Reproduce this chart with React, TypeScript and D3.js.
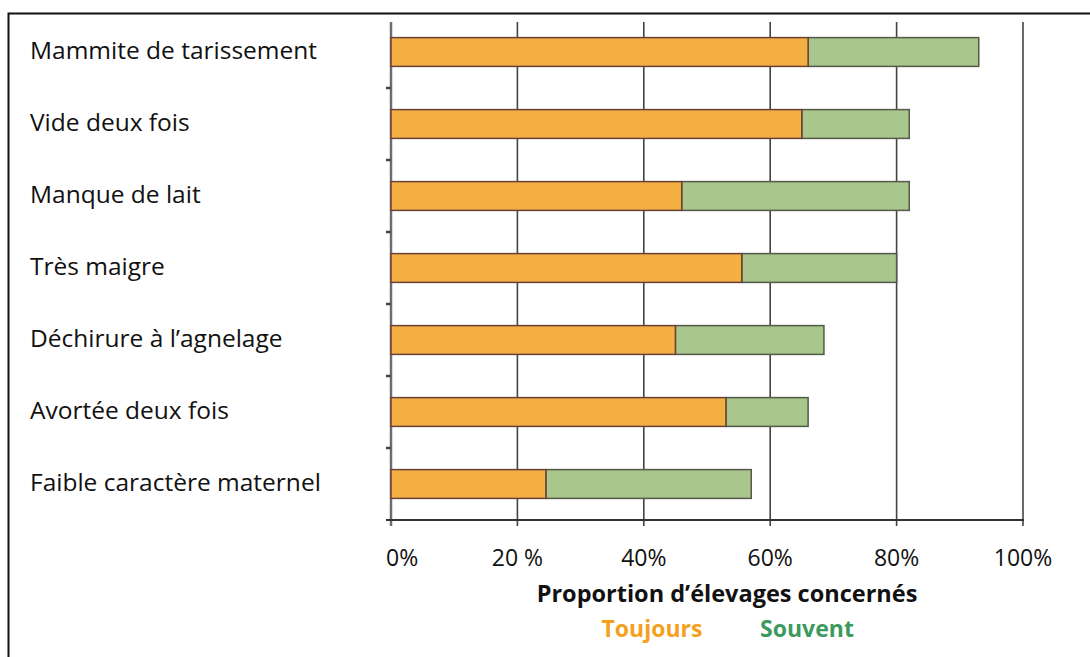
import { useEffect, useRef } from 'react';
import * as d3 from 'd3';

const WIDTH = 1090;
const HEIGHT = 657;

// Data
const CATEGORIES = [
  'Mammite de tarissement',
  'Vide deux fois',
  'Manque de lait',
  'Très maigre',
  'Déchirure à l\u2019agnelage',
  'Avortée deux fois',
  'Faible caractère maternel',
];
const TOUJOURS = [66, 65, 46, 55.5, 45, 53, 24.5];
const SOUVENT = [27, 17, 36, 24.5, 23.5, 13, 32.5];
const X_TICKS = [0, 20, 40, 60, 80, 100];
const X_TICK_LABELS = ['0%', '20 %', '40%', '60%', '80%', '100%'];

const FONT = '"Open Sans", "Noto Sans", Arial, sans-serif';
const ORANGE_FILL = '#f4b043';
const GREEN_FILL = '#a9c68c';

export default function App() {
  const svgRef = useRef<SVGSVGElement | null>(null);

  useEffect(() => {
    const svgEl = svgRef.current;
    if (!svgEl) return;
    const svg = d3.select(svgEl);
    svg.selectAll('*').remove();

    const plot = { left: 391, right: 1023, top: 16, bottom: 520 };

    const x = d3.scaleLinear().domain([0, 100]).range([plot.left, plot.right]);
    const y = d3
      .scaleBand<string>()
      .domain(CATEGORIES)
      .range([plot.top, plot.bottom])
      .paddingInner(0.6)
      .paddingOuter(0.3);

    // ---- frame -------------------------------------------------------------
    svg
      .append('rect')
      .attr('x', 8.5)
      .attr('y', 13.5)
      .attr('width', WIDTH + 20)
      .attr('height', HEIGHT + 20)
      .attr('fill', 'none')
      .attr('stroke', '#111')
      .attr('stroke-width', 2);

    // ---- vertical grid -----------------------------------------------------
    svg
      .append('g')
      .selectAll('line')
      .data(X_TICKS)
      .join('line')
      .attr('x1', (d) => x(d))
      .attr('x2', (d) => x(d))
      .attr('y1', 22)
      .attr('y2', plot.bottom + 6)
      .attr('stroke', (d) => (d === 0 ? '#6d6d78' : '#444'))
      .attr('stroke-width', (d) => (d === 0 ? 2.5 : 1.6));

    // ---- bars ----------------------------------------------------------------
    const rows = CATEGORIES.map((c, i) => ({ c, t: TOUJOURS[i], s: SOUVENT[i] }));
    const barG = svg.append('g');
    barG
      .selectAll('rect.souvent')
      .data(rows)
      .join('rect')
      .attr('class', 'souvent')
      .attr('x', (d) => x(d.t))
      .attr('y', (d) => y(d.c)!)
      .attr('width', (d) => x(d.t + d.s) - x(d.t))
      .attr('height', y.bandwidth())
      .attr('fill', GREEN_FILL)
      .attr('stroke', '#55584a')
      .attr('stroke-width', 1.5);
    barG
      .selectAll('rect.toujours')
      .data(rows)
      .join('rect')
      .attr('class', 'toujours')
      .attr('x', x(0))
      .attr('y', (d) => y(d.c)!)
      .attr('width', (d) => x(d.t) - x(0))
      .attr('height', y.bandwidth())
      .attr('fill', ORANGE_FILL)
      .attr('stroke', '#6a4232')
      .attr('stroke-width', 1.5);

    // ---- y-axis small ticks between categories -----------------------------
    const step = y.step();
    const boundaries = CATEGORIES.slice(1).map((c) => y(c)! - (step - y.bandwidth()) / 2);
    svg
      .append('g')
      .selectAll('line')
      .data(boundaries)
      .join('line')
      .attr('x1', plot.left - 5)
      .attr('x2', plot.left)
      .attr('y1', (d) => d)
      .attr('y2', (d) => d)
      .attr('stroke', '#444')
      .attr('stroke-width', 2.5);

    // ---- x axis baseline -----------------------------------------------------
    svg
      .append('line')
      .attr('x1', plot.left - 5)
      .attr('x2', plot.right + 1)
      .attr('y1', plot.bottom)
      .attr('y2', plot.bottom)
      .attr('stroke', '#333')
      .attr('stroke-width', 2);

    // ---- category labels -----------------------------------------------------
    svg
      .append('g')
      .selectAll('text')
      .data(CATEGORIES)
      .join('text')
      .attr('x', 30)
      .attr('y', (d) => y(d)! + y.bandwidth() / 2 + 7)
      .attr('font-family', FONT)
      .attr('font-size', 24.5)
      .attr('fill', '#111')
      .text((d) => d);

    // ---- x tick labels -------------------------------------------------------
    svg
      .append('g')
      .selectAll('text')
      .data(X_TICKS)
      .join('text')
      .attr('x', (d, i) => (i === 0 ? x(d) - 5 : x(d)))
      .attr('y', 566)
      .attr('text-anchor', (_, i) => (i === 0 ? 'start' : 'middle'))
      .attr('font-family', FONT)
      .attr('font-size', 23)
      .attr('fill', '#111')
      .text((_, i) => X_TICK_LABELS[i]);

    // ---- axis title & legend ------------------------------------------------
    svg
      .append('text')
      .attr('x', 727)
      .attr('y', 602)
      .attr('text-anchor', 'middle')
      .attr('font-family', FONT)
      .attr('font-weight', 'bold')
      .attr('font-size', 23.5)
      .attr('fill', '#111')
      .text('Proportion d\u2019\u00e9levages concernés');

    svg
      .append('text')
      .attr('x', 652)
      .attr('y', 637)
      .attr('text-anchor', 'middle')
      .attr('font-family', FONT)
      .attr('font-weight', 'bold')
      .attr('font-size', 23)
      .attr('fill', '#f5a01c')
      .text('Toujours');

    svg
      .append('text')
      .attr('x', 807)
      .attr('y', 637)
      .attr('text-anchor', 'middle')
      .attr('font-family', FONT)
      .attr('font-weight', 'bold')
      .attr('font-size', 23)
      .attr('fill', '#3d9a5e')
      .text('Souvent');
  }, []);

  return (
    <svg
      ref={svgRef}
      width={WIDTH}
      height={HEIGHT}
      viewBox={`0 0 ${WIDTH} ${HEIGHT}`}
      style={{ position: 'absolute', left: 0, top: 0, display: 'block', background: '#fff' }}
    />
  );
}
